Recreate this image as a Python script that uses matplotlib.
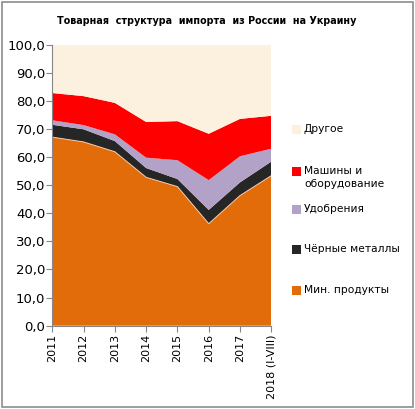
import matplotlib
matplotlib.use("Agg")
import matplotlib.pyplot as plt
from matplotlib.patches import Rectangle
import numpy as np

years = ["2011", "2012", "2013", "2014", "2015", "2016", "2017", "2018 (I-VIII)"]
min_products = [67.1, 65.4, 61.9, 52.8, 49.5, 36.3, 46.3, 53.4]
ferrous = [4.4, 4.5, 3.8, 3.3, 2.7, 4.9, 4.7, 5.0]
fertilizers = [1.6, 1.5, 2.4, 3.7, 6.7, 10.6, 9.3, 4.6]
machinery = [9.7, 10.3, 11.2, 12.7, 13.9, 16.5, 13.3, 11.7]
other = [100 - a - b - c - d for a, b, c, d in zip(min_products, ferrous, fertilizers, machinery)]

labels = ["Мин. продукты", "Чёрные металлы", "Удобрения", "Машины и\nоборудование", "Другое"]
colors = ["#E36C0A", "#262626", "#B3A2C7", "#FF0000", "#FCF1DE"]
series = [min_products, ferrous, fertilizers, machinery, other]

plt.rcParams['font.family'] = ['DejaVu Sans']
fig = plt.figure(figsize=(4.15, 4.09), dpi=100)
fig.patches.append(Rectangle((0.004, 0.004), 0.992, 0.992, transform=fig.transFigure,
                             fill=False, edgecolor="#8C8C8C", linewidth=1.2))

ax = fig.add_axes([0.126, 0.2037, 0.5277, 0.687])
x = np.arange(len(years))
ax.stackplot(x, *series, colors=colors, linewidth=0)
ax.plot(x, min_products, color="#F6C9A8", linewidth=0.7)

ax.set_xlim(0, len(years) - 1)
ax.set_ylim(0, 100)
ax.set_yticks(np.arange(0, 101, 10))
ax.set_yticklabels([f"{v:.1f}".replace(".", ",") for v in np.arange(0, 101, 10)], fontsize=9.5)
ax.set_xticks(x)
ax.set_xticklabels(years, rotation=90, fontsize=8)
for s in ["top", "right"]:
    ax.spines[s].set_visible(False)
for s in ["left", "bottom"]:
    ax.spines[s].set_color("#868686")
ax.tick_params(axis="both", color="#868686", length=4, width=0.8)
ax.tick_params(axis="y", pad=1)
ax.tick_params(axis="x", pad=2)

fig.text(207 / 415, 0.949, "Товарная  структура  импорта  из России  на Украину",
         ha="center", va="center", fontsize=6.9, fontweight="bold")

# legend (manual)
leg = [("Другое", colors[4], 130), ("Машины и\nоборудование", colors[3], 172),
       ("Удобрения", colors[2], 210), ("Чёрные металлы", colors[1], 250),
       ("Мин. продукты", colors[0], 291)]
W, H = 415, 409
for text, col, yp in leg:
    fig.patches.append(Rectangle((292 / W, 1 - (yp + 4) / H), 9 / W, 9 / H,
                                 transform=fig.transFigure, facecolor=col, edgecolor="none"))
    fig.text(304 / W, 1 - (yp - 6) / H, text, ha="left", va="top", fontsize=7.7,
             linespacing=1.35)

fig.savefig("out.png", dpi=100)
